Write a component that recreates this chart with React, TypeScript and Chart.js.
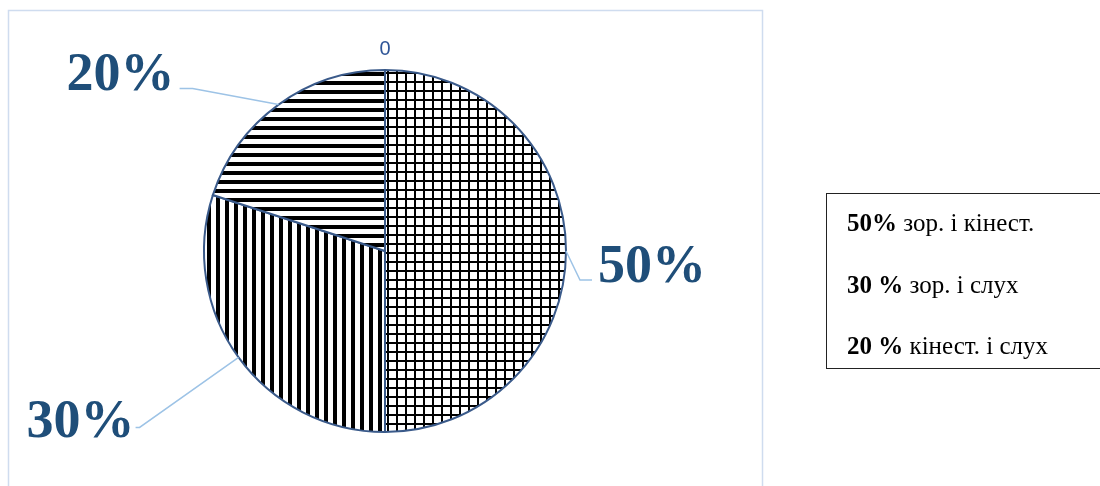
import { useRef, useEffect } from "react";
import { Chart, registerables, type Plugin } from "chart.js";

Chart.register(...registerables);

const labels = ["зор. і кінест.", "зор. і слух", "кінест. і слух"];
const values = [50, 30, 20];
const pieLabels = ["50%", "30%", "20%"];
const legendLabels = ["50%", "30 %", "20 %"];
const titleText = "0";

// label placement relative to the point where the leader leaves the pie edge
const leaderLayout = [
  { elbow: [14, 29], end: [26, 29], text: [32, 31], align: "left" },
  { elbow: [-99, 70], end: [-103, 70], text: [-104, 80], align: "right" },
  { elbow: [-86, -16], end: [-99, -16], text: [-104, -15], align: "right" },
] as const;

const SERIF = '"Times New Roman", "Liberation Serif", serif';

function makePattern(kind: "grid" | "vertical" | "horizontal") {
  const c = document.createElement("canvas");
  c.width = 9;
  c.height = 9;
  const ctx = c.getContext("2d")!;
  ctx.fillStyle = "#ffffff";
  ctx.fillRect(0, 0, 9, 9);
  ctx.fillStyle = "#000000";
  if (kind === "grid") {
    ctx.fillRect(0, 0, 2, 9);
    ctx.fillRect(0, 0, 9, 2);
  } else if (kind === "vertical") {
    ctx.fillRect(0, 0, 4, 9);
  } else {
    ctx.fillRect(0, 0, 9, 4);
  }
  return document.createElement("canvas").getContext("2d")!.createPattern(c, "repeat")!;
}

const decorPlugin: Plugin<"pie"> = {
  id: "decor",
  beforeDraw(chart) {
    const ctx = chart.ctx;
    ctx.save();
    ctx.strokeStyle = "#cfdcef";
    ctx.lineWidth = 1.5;
    ctx.strokeRect(8.5, 10.5, 754, 520);
    ctx.restore();
  },
  afterDatasetsDraw(chart) {
    const ctx = chart.ctx;
    const arcs = chart.getDatasetMeta(0).data as any[];
    ctx.save();
    arcs.forEach((arc, i) => {
      const { x, y, startAngle, endAngle, outerRadius } = arc.getProps(
        ["x", "y", "startAngle", "endAngle", "outerRadius"],
        true
      );
      const mid = (startAngle + endAngle) / 2;
      const ex = x + Math.cos(mid) * outerRadius;
      const ey = y + Math.sin(mid) * outerRadius;
      const lay = leaderLayout[i];
      ctx.strokeStyle = "#9dc3e6";
      ctx.lineWidth = 1.5;
      ctx.beginPath();
      ctx.moveTo(ex, ey);
      ctx.lineTo(ex + lay.elbow[0], ey + lay.elbow[1]);
      ctx.lineTo(ex + lay.end[0], ey + lay.end[1]);
      ctx.stroke();
      ctx.fillStyle = "#1f4e79";
      ctx.font = `bold 54px ${SERIF}`;
      ctx.textAlign = lay.align;
      ctx.textBaseline = "alphabetic";
      ctx.fillText(pieLabels[i], ex + lay.text[0], ey + lay.text[1]);
    });
    if (arcs.length) {
      const { x, y, outerRadius } = arcs[0].getProps(["x", "y", "outerRadius"], true);
      ctx.fillStyle = "#2f5597";
      ctx.font = '20px "Liberation Sans", Arial, sans-serif';
      ctx.textAlign = "center";
      ctx.textBaseline = "middle";
      ctx.fillText(titleText, x, y - outerRadius - 21);
    }
    ctx.restore();
  },
};

export default function App() {
  const canvasRef = useRef<HTMLCanvasElement>(null);
  const chartRef = useRef<Chart<"pie"> | null>(null);

  useEffect(() => {
    if (!canvasRef.current) return;
    chartRef.current?.destroy();

    const patterns = [makePattern("grid"), makePattern("vertical"), makePattern("horizontal")];

    chartRef.current = new Chart(canvasRef.current, {
      type: "pie",
      data: {
        labels,
        datasets: [
          {
            data: values,
            backgroundColor: patterns,
            borderColor: "#3a5a8a",
            borderWidth: 2,
            borderJoinStyle: "miter",
            hoverOffset: 0,
            offset: 0,
          },
        ],
      },
      options: {
        responsive: false,
        animation: false,
        radius: 181,
        layout: { padding: { left: 200, right: 530, top: 66, bottom: 50 } },
        plugins: {
          legend: { display: false },
          tooltip: { enabled: false },
        },
      },
      plugins: [decorPlugin],
    });

    return () => {
      chartRef.current?.destroy();
    };
  }, []);

  return (
    <div style={{ position: "fixed", left: 0, top: 0, width: 1100, height: 486, background: "#fff", overflow: "hidden" }}>
      <canvas ref={canvasRef} width={1100} height={486} style={{ position: "absolute", left: 0, top: 0 }} />
      <div
        style={{
          position: "absolute",
          left: 826,
          top: 193,
          width: 320,
          height: 174,
          border: "1.5px solid #222",
          fontFamily: SERIF,
          fontSize: 25,
          color: "#000",
        }}
      >
        {legendLabels.map((p, i) => (
          <div
            key={p}
            style={{ position: "absolute", left: 20, top: 15 + i * 61.5, lineHeight: "28px", whiteSpace: "nowrap" }}
          >
            <b>{p}</b> {labels[i]}
          </div>
        ))}
      </div>
    </div>
  );
}
